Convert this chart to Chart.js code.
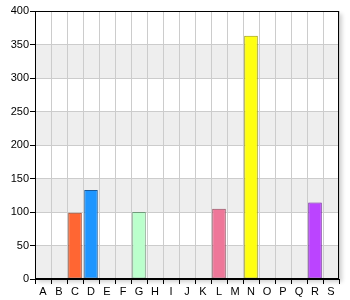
<!DOCTYPE html>
<html>
<head>
<meta charset="utf-8">
<script src="https://cdn.jsdelivr.net/npm/chart.js@4/dist/chart.umd.min.js"></script>
<style>
  html, body { margin: 0; padding: 0; background: #fff; }
  #wrap { width: 350px; height: 300px; }
</style>
</head>
<body>
<div id="wrap"><canvas id="chart" width="350" height="300"></canvas></div>
<script>
// Chart data
const categories = ["A", "B", "C", "D", "E", "F", "G", "H", "I", "J", "K", "L", "M", "N", "O", "P", "Q", "R", "S"];
const values = [null, null, 99, 133, null, null, 100, null, null, null, null, 105, null, 363, null, null, null, 114, null];
const fillColors = ["#ccc", "#ccc", "#ff6633", "#1e96ff", "#ccc", "#ccc", "#bbffcc", "#ccc", "#ccc", "#ccc", "#ccc", "#ee7799", "#ccc", "#ffff11", "#ccc", "#ccc", "#ccc", "#bb44ff", "#ccc"];
const edgeColors = ["#999", "#999", "#993d1f", "#1a5a99", "#999", "#999", "#70997a", "#999", "#999", "#999", "#999", "#8f4a5c", "#999", "#999900", "#999", "#999", "#999", "#7022a0", "#999"];
const yTicks = [0, 50, 100, 150, 200, 250, 300, 350, 400];

// Plot background: shadow, alternating bands, frame
const bandsPlugin = {
  id: "bands",
  beforeDraw(chart) {
    const { ctx, chartArea: a, scales: { y } } = chart;
    ctx.save();
    ctx.shadowColor = "rgba(0,0,0,0.18)";
    ctx.shadowBlur = 4;
    ctx.shadowOffsetX = 3;
    ctx.shadowOffsetY = 3;
    ctx.fillStyle = "#ffffff";
    ctx.fillRect(a.left, a.top, a.right - a.left, a.bottom - a.top);
    ctx.restore();
    ctx.save();
    ctx.fillStyle = "#eeeeee";
    for (let i = 0; i < yTicks.length - 1; i += 2) {
      const top = y.getPixelForValue(yTicks[i + 1]);
      const bottom = y.getPixelForValue(yTicks[i]);
      ctx.fillRect(a.left, top, a.right - a.left, bottom - top);
    }
    ctx.restore();
  },
  afterDraw(chart) {
    const { ctx, chartArea: a } = chart;
    ctx.save();
    ctx.strokeStyle = "#000";
    ctx.lineWidth = 1;
    ctx.strokeRect(Math.round(a.left) + 0.5, Math.round(a.top) + 0.5,
      Math.round(a.right - a.left) - 1, Math.round(a.bottom - a.top) - 1);
    ctx.restore();
  }
};

const ctx = document.getElementById("chart").getContext("2d");
new Chart(ctx, {
  type: "bar",
  data: {
    labels: categories,
    datasets: [
      {
        data: values,
        backgroundColor: fillColors,
        borderColor: edgeColors,
        borderWidth: 1,
        borderSkipped: false,
        categoryPercentage: 1,
        barPercentage: 0.85,
      },
    ],
  },
  options: {
    responsive: false,
    animation: false,
    layout: { padding: { top: 11, right: 11, left: 0, bottom: 0 } },
    plugins: { legend: { display: false }, tooltip: { enabled: false } },
    scales: {
      x: {
        grid: { color: "#cccccc", tickColor: "#000", tickLength: 5, offset: true },
        border: { color: "#000" },
        ticks: { color: "#000", font: { family: "Liberation Sans", size: 11 }, padding: 1, maxRotation: 0, autoSkip: false },
        afterFit(scale) { scale.height = 21; },
      },
      y: {
        min: 0,
        max: 400,
        grid: { color: "#cccccc", tickColor: "#000", tickLength: 5 },
        border: { color: "#000" },
        ticks: { stepSize: 50, color: "#000", font: { family: "Liberation Sans", size: 11 }, padding: 1 },
        afterFit(scale) { scale.width = 35; },
      },
    },
  },
  plugins: [bandsPlugin],
});
</script>
</body>
</html>
